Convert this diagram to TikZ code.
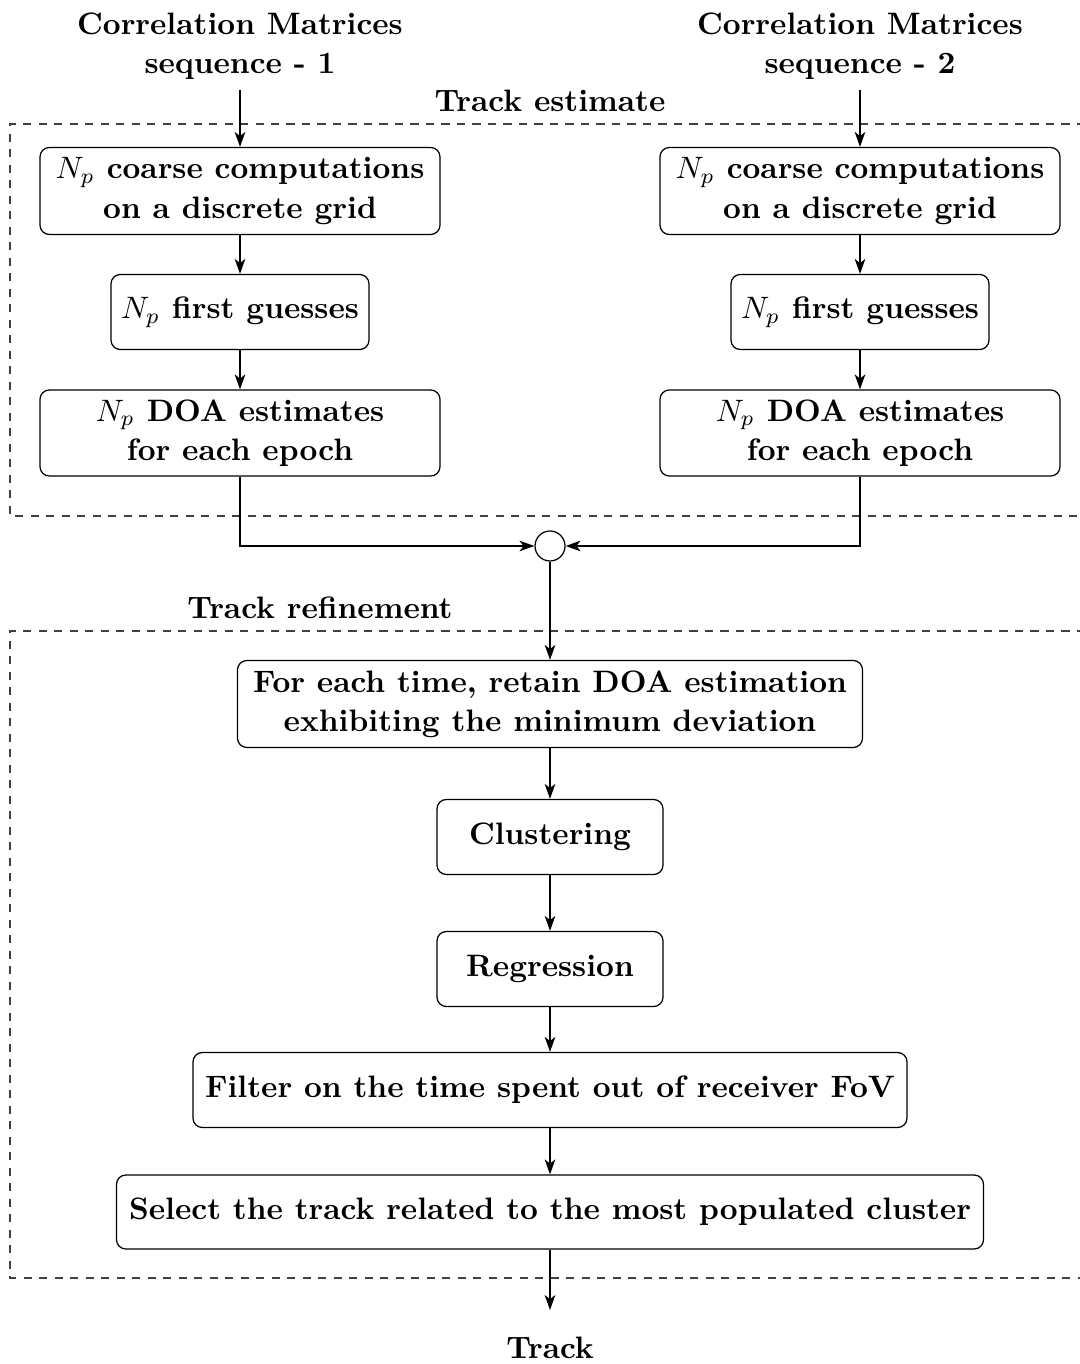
\documentclass[tikz,border=0pt]{standalone}
\usetikzlibrary{arrows.meta}
\newdimen\pxu
\pxu=0.3226pt
\begin{document}
\begin{tikzpicture}[x=0.3226pt,y=-0.3226pt,
  font=\bfseries\fontsize{10pt}{12.6pt}\selectfont,
  procbox/.style={draw,line width=0.4pt,rounded corners=3pt,align=center,inner sep=0pt},
  title/.style={align=center,inner sep=0pt},
  flow/.style={semithick,-{Stealth[length=4.8pt,width=3.4pt,inset=1.3pt]}},
  group/.style={draw=black!75,line width=0.4pt,dash pattern=on 2.6pt off 2.4pt}]
\useasboundingbox (0,0) rectangle (1079,1364);

% group frames
\draw[group] (1085,124) -- (10,124) -- (10,516) -- (1085,516);
\draw[group] (1085,631) -- (10,631) -- (10,1278) -- (1085,1278);
\node[title] (lblEst) at (550,101) {Track estimate};
\node[title] (lblRef) at (320,608) {Track refinement};

% inputs
\node[title] (in1) at (240,46) {Correlation Matrices\\sequence - 1};
\node[title] (in2) at (860,46) {Correlation Matrices\\sequence - 2};

% sequence 1 branch
\node[procbox,minimum width=400\pxu,minimum height=87\pxu] (c1) at (240,191) {$N_p$ coarse computations\\on a discrete grid};
\node[procbox,minimum width=258\pxu,minimum height=75\pxu] (g1) at (240,312) {$N_p$ first guesses};
\node[procbox,minimum width=400\pxu,minimum height=86\pxu] (d1) at (240,433) {$N_p$ DOA estimates\\for each epoch};

% sequence 2 branch
\node[procbox,minimum width=400\pxu,minimum height=87\pxu] (c2) at (860,191) {$N_p$ coarse computations\\on a discrete grid};
\node[procbox,minimum width=258\pxu,minimum height=75\pxu] (g2) at (860,312) {$N_p$ first guesses};
\node[procbox,minimum width=400\pxu,minimum height=86\pxu] (d2) at (860,433) {$N_p$ DOA estimates\\for each epoch};

% junction
\node[draw,circle,line width=0.4pt,minimum size=30\pxu,inner sep=0pt] (jn) at (550,546) {};

% refinement chain
\node[procbox,minimum width=625\pxu,minimum height=87\pxu] (r1) at (550,704) {For each time, retain DOA estimation\\exhibiting the minimum deviation};
\node[procbox,minimum width=226\pxu,minimum height=75\pxu] (r2) at (550,837) {Clustering};
\node[procbox,minimum width=226\pxu,minimum height=75\pxu] (r3) at (550,969) {Regression};
\node[procbox,minimum width=714\pxu,minimum height=75\pxu] (r4) at (550,1090) {Filter on the time spent out of receiver FoV};
\node[procbox,minimum width=867\pxu,minimum height=74\pxu] (r5) at (550,1212) {Select the track related to the most populated cluster};

\coordinate (outEnd) at (550,1310);
\node[title] (out) at (550,1348) {Track};

% connectors
\draw[flow] (in1.south) ++(0,10) coordinate (in1s) -- (c1.north);
\draw[flow] (in2.south) ++(0,10) coordinate (in2s) -- (c2.north);
\draw[flow] (c1) -- (g1);
\draw[flow] (g1) -- (d1);
\draw[flow] (c2) -- (g2);
\draw[flow] (g2) -- (d2);
\draw[flow] (d1.south) |- (jn.west);
\draw[flow] (d2.south) |- (jn.east);
\draw[flow] (jn) -- (r1);
\draw[flow] (r1) -- (r2);
\draw[flow] (r2) -- (r3);
\draw[flow] (r3) -- (r4);
\draw[flow] (r4) -- (r5);
\draw[flow] (r5) -- (outEnd);
\end{tikzpicture}
\end{document}
